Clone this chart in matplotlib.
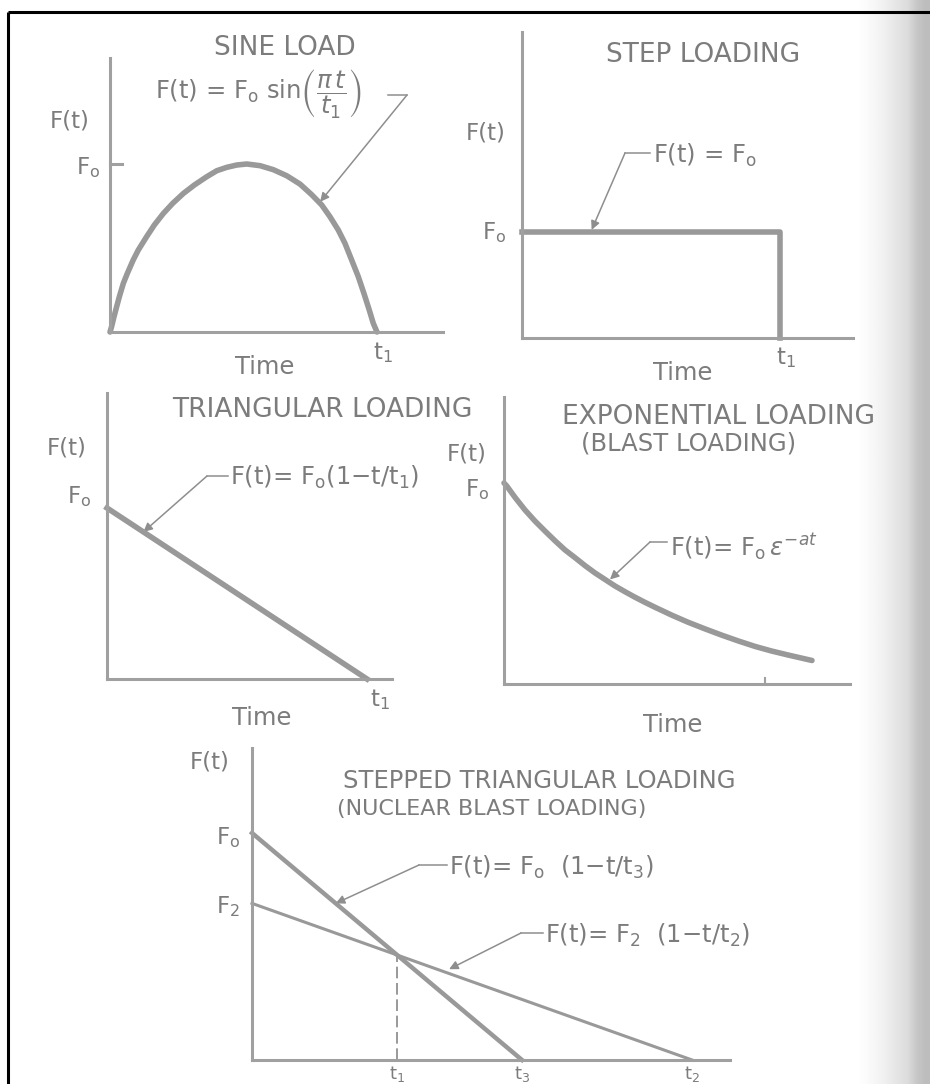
import numpy as np
import matplotlib
matplotlib.use("Agg")
import matplotlib.pyplot as plt

W, H = 930, 1084

# values; time is scaled to t1 (t3 in the last panel), force to F0
sine_t = [0, 0.006, 0.015, 0.025, 0.035, 0.050, 0.065, 0.087, 0.106, 0.137,
          0.166, 0.200, 0.235, 0.275, 0.316, 0.362, 0.400, 0.437, 0.475, 0.512,
          0.562, 0.612, 0.662, 0.712, 0.755, 0.793, 0.824, 0.855, 0.880, 0.905,
          0.930, 0.951, 0.971, 0.986, 1.0]
sine_f = [0, 0.032, 0.091, 0.151, 0.210, 0.290, 0.349, 0.429, 0.488, 0.567,
          0.637, 0.706, 0.766, 0.825, 0.875, 0.924, 0.960, 0.980, 0.994, 1.0,
          0.990, 0.966, 0.930, 0.880, 0.818, 0.756, 0.686, 0.607, 0.528, 0.429,
          0.329, 0.230, 0.131, 0.052, 0.0]

step_t = [0, 1, 1]
step_f = [1, 1, 0]

tri_t = [0, 1]
tri_f = [1, 0]

exp_t = [0, 0.009, 0.036, 0.068, 0.101, 0.133, 0.166, 0.198, 0.231, 0.263,
         0.295, 0.328, 0.360, 0.393, 0.425, 0.458, 0.490, 0.544, 0.598, 0.653,
         0.707, 0.761, 0.815, 0.869, 0.923, 0.977, 1.0]
exp_f = [1.0, 0.985, 0.928, 0.866, 0.810, 0.761, 0.712, 0.667, 0.628, 0.589,
         0.553, 0.520, 0.488, 0.459, 0.432, 0.406, 0.382, 0.343, 0.307, 0.274,
         0.243, 0.214, 0.187, 0.164, 0.144, 0.125, 0.117]
exp_tick = 0.847

# stepped triangular (nuclear blast) loading
F0, F2 = 1.0, 0.69
t3, t2 = 1.0, 1.63
t1 = (F0 - F2) / (F0 / t3 - F2 / t2)   # where the two lines cross

TXT = "#7c7c7c"
LC = "#999999"
AXC = "#a0a0a0"
ARC = "#8e8e8e"

plt.rcParams["font.family"] = ["DejaVu Sans"]
plt.rcParams["mathtext.fontset"] = "dejavusans"

fig = plt.figure(figsize=(W / 100, H / 100), dpi=100)
ov = fig.add_axes([0, 0, 1, 1])
ov.set_xlim(0, W)
ov.set_ylim(H, 0)
ov.axis("off")

# page edge shading on the right and the black frame of the scan
shade = np.array([[1.0, 0.99, 0.97, 0.95, 0.92, 0.89, 0.86, 0.78, 0.74]])
ov.imshow(shade, cmap="gray", vmin=0, vmax=1, extent=(850, 930, H, 0),
          aspect="auto", interpolation="bilinear", zorder=0)
ov.plot([8, 930], [12, 12], color="black", lw=2.2, solid_capstyle="butt")
ov.plot([8, 8], [12, H], color="black", lw=2.2, solid_capstyle="butt")


def panel(ox, oy, right, top, t_px, f_px):
    ax = fig.add_axes([ox / W, 1 - oy / H, (right - ox) / W, (oy - top) / H])
    ax.set_xlim(0, (right - ox) / t_px)
    ax.set_ylim(0, (oy - top) / f_px)
    for s in ("top", "right"):
        ax.spines[s].set_visible(False)
    for s in ("left", "bottom"):
        ax.spines[s].set_color(AXC)
        ax.spines[s].set_linewidth(2.2)
    ax.set_xticks([])
    ax.set_yticks([])
    ax.patch.set_alpha(0)
    return ax


def leader(x0, y, kx, ax, target):
    ov.plot([x0, kx], [y, y], color=ARC, lw=1.1)
    ov.annotate("", xy=target, xycoords=ax.transData, xytext=(kx, y),
                textcoords="data",
                arrowprops=dict(arrowstyle="-|>", color=ARC, lw=1.1,
                                mutation_scale=13, shrinkA=0, shrinkB=0))


def txt(x, y, s, size=16.5, ha="center", va="center"):
    ov.text(x, y, s, fontsize=size, color=TXT, ha=ha, va=va)


TS = 19     # titles
FS = 17.5   # formulas

# ---- sine load ----
ax1 = panel(110, 332, 443, 58, 267, 168)
ax1.plot(sine_t, sine_f, color=LC, lw=4, clip_on=False,
         solid_capstyle="round", solid_joinstyle="round")
ax1.plot([0, 0.045], [1, 1], color=AXC, lw=2.2, clip_on=False)
txt(285, 48, "SINE LOAD", TS)
txt(155, 94, r"F(t) = F$_\mathrm{o}$ sin$\left(\dfrac{\pi\,t}{t_1}\right)$", FS, ha="left")
leader(388, 95, 407, ax1, (0.787, 0.775))
txt(70, 121, "F(t)")
txt(100, 168, r"F$_\mathrm{o}$", ha="right")
txt(265, 367, "Time", 17.5)
txt(383, 353, r"t$_1$")

# ---- step loading ----
ax2 = panel(522, 338, 853, 32, 258, 106)
ax2.plot(step_t, step_f, color=LC, lw=4, clip_on=False)
txt(703, 55, "STEP LOADING", TS)
txt(653, 155, r"F(t) = F$_\mathrm{o}$", FS, ha="left")
leader(650, 153, 625, ax2, (0.27, 1.02))
txt(486, 133, "F(t)")
txt(506, 233, r"F$_\mathrm{o}$", ha="right")
txt(683, 373, "Time", 17.5)
txt(786, 358, r"t$_1$")

# ---- triangular loading ----
ax3 = panel(107, 679, 392, 393, 260, 171)
ax3.plot(tri_t, tri_f, color=LC, lw=4, clip_on=False)
txt(322, 410, "TRIANGULAR LOADING", TS)
txt(230, 477, r"F(t)= F$_\mathrm{o}$(1$-$t/t$_1$)", FS, ha="left")
leader(228, 476, 207, ax3, (0.14, 0.86))
txt(67, 448, "F(t)")
txt(91, 497, r"F$_\mathrm{o}$", ha="right")
txt(262, 718, "Time", 17.5)
txt(380, 700, r"t$_1$")

# ---- exponential loading ----
ax4 = panel(504, 684, 850, 397, 308, 201)
ax4.plot(exp_t, exp_f, color=LC, lw=4, clip_on=False,
         solid_capstyle="round", solid_joinstyle="round")
ax4.plot([exp_tick, exp_tick], [0, 0.03], color=AXC, lw=1.5, clip_on=False)
txt(718, 417, "EXPONENTIAL LOADING", TS)
txt(689, 444, "(BLAST LOADING)", 17.5)
txt(670, 547, r"F(t)= F$_\mathrm{o}\,\epsilon^{-at}$", FS, ha="left")
leader(667, 542, 650, ax4, (0.344, 0.52))
txt(467, 454, "F(t)")
txt(489, 490, r"F$_\mathrm{o}$", ha="right")
txt(673, 725, "Time", 17.5)

# ---- stepped triangular loading ----
ax5 = panel(252, 1060, 730, 748, 270, 227)
ax5.plot([0, t3], [F0, 0], color=LC, lw=3.2, clip_on=False)
ax5.plot([0, t2], [F2, 0], color=LC, lw=2.2, clip_on=False)
ax5.plot([t1, t1], [0, F0 * (1 - t1 / t3)], color=LC, lw=1.4,
         ls=(0, (6, 2.4)), clip_on=False)
txt(210, 762, "F(t)")
txt(539, 781, "STEPPED TRIANGULAR LOADING", 17.5)
txt(492, 809, "(NUCLEAR BLAST LOADING)", 16)
txt(240, 838, r"F$_\mathrm{o}$", ha="right")
txt(240, 907, r"F$_2$", ha="right")
txt(449, 867, r"F(t)= F$_\mathrm{o}$  (1$-$t/t$_3$)", FS, ha="left")
leader(447, 865, 419, ax5, (0.31, 0.69))
txt(545, 935, r"F(t)= F$_2$  (1$-$t/t$_2$)", FS, ha="left")
leader(543, 933, 521, ax5, (0.73, 0.40))
for tv, name in ((t1, r"t$_1$"), (t3, r"t$_3$"), (t2, r"t$_2$")):
    ax5.annotate(name, xy=(tv, 0), xytext=(0, -3), textcoords="offset points",
                 ha="center", va="top", fontsize=13, color=TXT,
                 annotation_clip=False)

fig.savefig("out.png", dpi=100)
